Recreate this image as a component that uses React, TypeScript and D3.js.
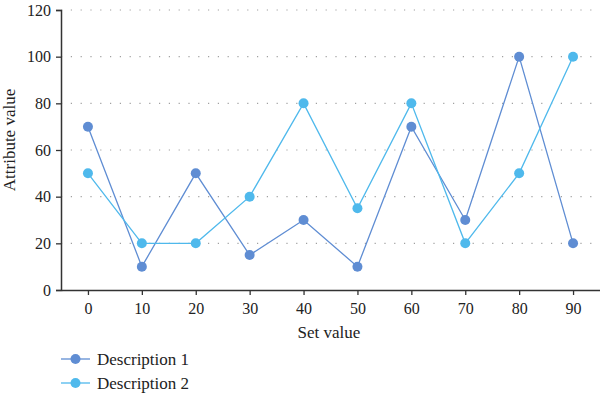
import React, { useRef, useEffect } from "react";
import * as d3 from "d3";

const setValues = [0, 10, 20, 30, 40, 50, 60, 70, 80, 90];
const description1 = [70, 10, 50, 15, 30, 10, 70, 30, 100, 20];
const description2 = [50, 20, 20, 40, 80, 35, 80, 20, 50, 100];
const seriesNames = ["Description 1", "Description 2"];
const seriesColors = ["#5f8dd3", "#4fb9ec"];
const yTicks = [0, 20, 40, 60, 80, 100, 120];

function App() {
  const ref = useRef<SVGSVGElement>(null);

  useEffect(() => {
    const svg = d3.select(ref.current);
    svg.selectAll("*").remove();
    const font = "'Liberation Serif', 'DejaVu Serif', serif";

    const x = d3.scaleLinear().domain([-5, 95]).range([61, 600]);
    const y = d3.scaleLinear().domain([0, 120]).range([290, 10]);

    // grid
    svg.append("g")
      .selectAll("line")
      .data(yTicks.filter((d) => d > 0))
      .join("line")
      .attr("x1", 61)
      .attr("x2", 600)
      .attr("y1", (d) => y(d))
      .attr("y2", (d) => y(d))
      .attr("stroke", "#a0a0a0")
      .attr("stroke-width", 1.2)
      .attr("stroke-dasharray", "1.2,8.6");

    const yAxis = svg.append("g")
      .attr("transform", "translate(61,0)")
      .call(d3.axisLeft(y).tickValues(yTicks).tickSize(5).tickPadding(5));
    const xAxis = svg.append("g")
      .attr("transform", "translate(0,290)")
      .call(d3.axisBottom(x).tickValues(setValues).tickSize(5).tickPadding(8).tickSizeOuter(0));

    [yAxis, xAxis].forEach((g) => {
      g.attr("font-size", 16).attr("font-family", font);
      g.select(".domain").attr("stroke", "#333").attr("stroke-width", 1.5);
      g.selectAll(".tick line").attr("stroke", "#333").attr("stroke-width", 1.3);
      g.selectAll("text").attr("fill", "#222");
    });

    svg.append("text")
      .attr("transform", "translate(15,140) rotate(-90)")
      .attr("text-anchor", "middle")
      .attr("font-family", font)
      .attr("font-size", 17)
      .attr("fill", "#222")
      .text("Attribute value");
    svg.append("text")
      .attr("x", 329)
      .attr("y", 338)
      .attr("text-anchor", "middle")
      .attr("font-family", font)
      .attr("font-size", 17)
      .attr("fill", "#222")
      .text("Set value");

    const series = [description1, description2];
    const line = d3.line<number>().x((_, i) => x(setValues[i])).y((d) => y(d));
    series.forEach((vals, si) => {
      svg.append("path")
        .datum(vals)
        .attr("d", line)
        .attr("fill", "none")
        .attr("stroke", seriesColors[si])
        .attr("stroke-width", 1.3);
    });
    series.forEach((vals, si) => {
      svg.append("g")
        .selectAll("circle")
        .data(vals)
        .join("circle")
        .attr("cx", (_, i) => x(setValues[i]))
        .attr("cy", (d) => y(d))
        .attr("r", 5)
        .attr("fill", seriesColors[si]);
    });

    const legend = svg.append("g");
    seriesNames.forEach((name, i) => {
      const ly = 359 + i * 24;
      legend.append("line")
        .attr("x1", 61).attr("x2", 90).attr("y1", ly).attr("y2", ly)
        .attr("stroke", seriesColors[i]).attr("stroke-width", 1.3);
      legend.append("circle")
        .attr("cx", 75.5).attr("cy", ly).attr("r", 5).attr("fill", seriesColors[i]);
      legend.append("text")
        .attr("x", 97).attr("y", ly + 6)
        .attr("font-family", font).attr("font-size", 17).attr("fill", "#222")
        .text(name);
    });
  }, []);

  return (
    <svg
      ref={ref}
      width={600}
      height={395}
      style={{ position: "absolute", left: 0, top: 0, background: "#fff" }}
    />
  );
}

export default App;
